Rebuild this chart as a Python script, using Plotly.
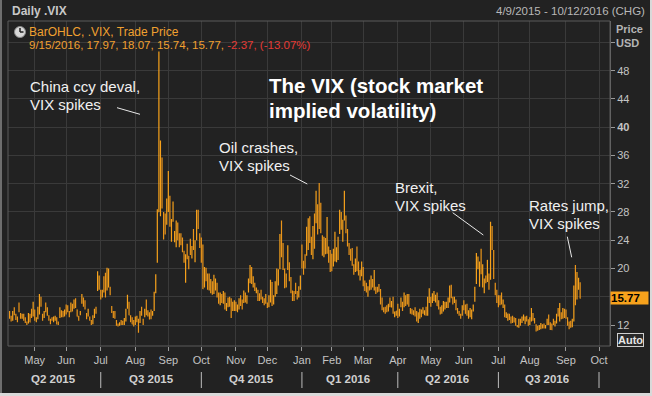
import pandas as pd
import plotly.graph_objects as go

# ---------------- data (daily .VIX bars) ----------------
holidays = ["2015-05-25", "2015-07-03", "2015-09-07", "2015-11-26", "2015-12-25",
            "2016-01-01", "2016-01-18", "2016-02-15", "2016-03-25", "2016-05-30",
            "2016-07-04", "2016-09-05"]
start_date, end_date = "2015-04-09", "2016-09-15"

opens = [
    13.6,13.2,12.8,13.9,13.4,13.0,14.2,13.6,13.0,13.3,12.9,12.3,12.5,13.2,13.5,13.6,  # Apr 15
    14.0,12.6,13.0,14.0,15.4,13.4,13.3,14.2,13.6,13.2,12.6,12.9,12.6,12.7,13.0,12.3,13.1,14.0,13.8,13.3,  # May
    14.5,14.3,13.8,14.0,14.5,14.4,15.4,14.2,13.0,13.6,15.4,15.6,14.8,13.4,13.3,13.0,12.6,12.3,13.3,14.1,17.0,17.9,  # Jun
    16.8,16.0,18.2,17.2,17.2,18.0,17.0,14.5,13.9,13.4,12.6,12.0,12.0,12.3,12.3,12.2,12.7,14.8,15.2,13.3,13.0,12.1,  # Jul
    12.1,12.6,12.6,12.6,13.8,12.8,13.5,14.9,13.3,13.6,13.9,13.6,14.9,16.6,21.5,28.0,29.4,31.3,26.3,26.7,28.1,  # Aug
    29.0,29.1,25.2,27.3,24.1,23.5,25.8,24.6,24.4,24.2,22.3,20.9,22.5,20.3,23.3,21.9,24.5,21.5,24.1,27.1,24.5,  # Sep
    24.0,22.5,17.9,19.5,19.0,18.8,17.0,17.6,16.6,17.4,17.9,16.0,15.8,15.9,15.5,16.5,14.2,15.2,15.6,15.1,14.4,14.6,  # Oct
    15.1,14.5,14.3,15.6,15.3,15.4,16.3,15.4,16.8,18.6,20.0,17.8,17.7,16.7,16.6,15.9,16.9,15.7,15.3,15.2,  # Nov
    15.0,14.7,15.6,17.6,15.1,17.0,17.3,18.8,20.2,24.7,21.5,19.5,17.9,20.3,19.7,18.4,16.3,15.8,17.0,16.5,16.0,17.2,  # Dec
    22.5,20.1,21.7,22.4,22.9,25.0,22.6,21.8,26.6,26.8,26.2,29.2,27.9,23.6,22.4,23.3,22.4,22.8,22.3,  # Jan 16
    21.5,20.7,21.2,21.7,22.3,25.8,26.5,24.8,28.0,26.7,24.2,23.0,21.6,22.3,19.6,19.7,21.4,20.6,18.6,19.6,  # Feb
    19.6,17.9,17.6,16.6,17.7,17.3,18.3,17.2,17.2,17.0,17.4,16.7,15.2,14.3,14.4,14.3,14.1,15.5,14.5,15.6,13.5,13.6,  # Mar
    14.7,13.3,14.6,15.2,14.7,15.4,15.0,16.2,14.3,13.8,13.8,14.3,13.3,13.2,13.2,14.0,13.7,13.9,14.2,13.9,15.3,  # Apr
    15.7,15.2,16.0,15.6,16.2,15.0,14.5,13.8,14.3,14.6,15.1,14.7,15.6,16.6,15.7,15.5,15.5,14.1,13.9,13.4,13.7,  # May
    15.2,14.6,14.0,13.6,13.4,14.0,14.5,15.6,18.2,20.3,19.8,21.0,19.0,16.7,18.6,18.7,19.0,21.8,24.4,21.8,17.8,16.6,  # Jun
    16.0,15.9,16.5,14.6,14.7,13.4,13.1,13.5,12.9,12.8,12.9,12.6,11.9,11.8,12.8,12.6,13.0,12.7,12.9,12.5,  # Jul
    12.1,12.8,13.6,12.9,12.0,11.7,11.7,11.7,12.0,12.0,11.6,12.2,12.6,12.3,11.8,12.4,12.0,12.4,13.7,13.2,13.6,13.1,13.7,  # Aug
    13.6,12.7,12.3,12.4,12.2,12.8,18.9,16.0,17.6,17.97,  # Sep
]
highs = [
    14.0,13.3,14.0,14.5,13.6,13.2,15.2,13.7,13.6,13.6,13.1,12.5,13.7,13.6,14.3,15.3,
    14.2,13.1,14.6,16.4,16.0,13.6,14.0,15.2,14.5,13.4,12.9,13.1,13.2,13.3,13.1,12.5,14.5,14.1,14.0,14.2,
    14.9,14.8,14.0,15.2,15.0,15.6,15.8,14.2,13.3,14.0,16.4,15.9,15.5,13.7,14.3,13.2,12.7,13.4,14.3,14.6,19.6,19.0,
    17.0,17.0,18.9,19.4,20.1,20.0,17.4,14.7,14.0,14.0,12.7,12.2,12.4,12.7,12.6,13.0,14.3,16.3,15.3,13.4,13.1,12.7,
    13.2,13.3,12.9,14.0,14.6,12.9,14.3,15.6,14.1,13.8,14.2,14.0,16.7,19.2,28.4,50.7,38.1,35.7,28.0,27.8,29.9,
    33.8,30.3,27.0,29.5,25.3,26.8,26.5,25.0,25.0,24.4,22.5,22.0,23.5,21.8,24.2,23.2,25.6,24.0,28.3,28.3,25.0,
    24.4,23.4,20.2,20.1,19.3,19.3,18.5,18.2,19.1,18.6,18.0,16.6,16.6,16.4,16.8,16.6,15.1,15.9,16.0,15.8,15.3,15.5,
    15.3,14.9,15.8,16.2,15.6,16.9,16.6,16.2,18.6,20.5,20.2,18.9,18.0,17.3,17.0,16.5,17.0,16.0,15.8,16.4,
    15.2,16.2,18.4,18.1,16.2,18.2,20.0,19.9,24.9,26.8,23.6,20.0,19.3,23.3,20.9,18.8,16.9,16.8,18.0,16.8,17.5,19.0,
    23.4,21.1,22.0,25.9,27.1,27.4,24.5,26.0,27.8,31.0,29.1,32.1,29.3,24.7,24.5,24.3,27.3,23.1,22.6,
    22.1,22.8,25.2,23.0,24.5,28.3,28.0,26.9,31.0,27.5,25.6,23.6,22.8,22.9,20.6,21.4,23.1,21.0,19.8,21.0,
    20.2,18.3,18.0,17.5,18.4,19.0,18.5,19.8,17.4,17.4,17.8,17.1,15.9,14.5,14.6,14.8,15.0,15.9,15.4,16.0,13.9,14.0,
    15.0,14.3,15.9,15.3,16.6,16.2,16.4,16.4,14.4,14.3,14.1,14.5,14.0,13.8,14.3,14.2,14.5,14.1,14.6,16.0,17.2,
    16.0,16.5,16.8,16.3,16.6,15.5,14.6,14.8,15.4,15.3,15.3,15.9,17.6,17.7,16.0,16.0,15.6,14.4,14.0,13.6,14.8,
    15.5,14.9,15.0,14.1,14.4,14.2,14.9,17.4,22.2,21.7,21.0,22.8,20.6,18.6,19.0,21.2,19.3,26.6,26.0,22.6,18.0,17.0,
    16.2,16.2,16.6,15.6,14.9,13.8,13.6,13.6,13.2,13.3,13.1,13.0,12.0,12.9,12.9,13.2,13.5,13.2,13.3,12.8,
    13.1,14.4,13.7,13.0,12.1,11.9,12.0,12.3,12.1,12.2,12.0,12.9,13.5,12.4,12.2,12.9,12.6,13.6,14.4,15.1,13.8,14.4,14.3,
    14.2,13.1,12.5,12.6,12.9,17.6,20.5,19.5,18.7,18.07,
]
lows = [
    12.9,12.5,12.6,13.4,12.7,12.4,13.8,12.9,12.9,12.6,12.3,12.0,12.2,12.4,13.0,13.2,
    12.6,12.4,12.8,13.5,14.6,12.6,13.0,13.8,13.3,12.6,12.1,12.6,12.4,12.6,12.1,12.0,13.0,13.1,13.1,13.2,
    13.5,13.8,13.1,13.8,13.9,14.3,14.4,13.2,12.6,13.4,15.0,14.6,14.2,12.8,13.2,12.6,12.0,12.1,13.0,13.6,16.8,17.0,
    15.6,15.9,16.6,15.9,16.9,17.3,16.2,13.7,13.0,12.9,11.9,11.8,11.9,12.0,12.0,12.0,12.5,14.3,13.4,12.4,12.1,11.8,
    12.0,12.4,10.9,12.3,13.3,12.0,13.1,13.4,13.2,12.8,12.8,13.3,14.0,16.5,20.8,28.0,27.4,28.5,24.1,24.8,26.2,
    28.0,25.9,23.8,26.6,23.7,23.0,24.0,23.0,23.3,22.3,20.8,18.0,21.3,19.9,21.9,21.4,22.6,20.9,24.0,25.6,22.9,
    20.8,17.1,17.3,18.2,17.0,16.9,16.5,16.3,16.4,16.9,15.9,15.0,14.8,15.1,15.0,14.2,14.0,14.5,14.6,13.0,14.0,14.0,
    14.0,13.8,14.2,14.7,14.2,15.1,15.2,15.0,16.6,17.9,17.8,17.3,16.8,16.5,15.4,15.4,15.6,15.1,14.8,15.0,
    14.4,14.5,15.2,14.7,14.9,16.0,16.4,17.6,19.9,21.6,19.8,17.2,17.3,19.8,18.2,16.5,15.4,15.4,16.4,15.6,15.9,17.0,
    20.0,19.1,20.0,21.8,22.6,23.6,21.9,21.3,22.8,26.4,24.8,25.6,25.0,21.8,21.6,22.0,22.1,20.8,19.5,
    19.6,20.3,21.0,20.9,21.2,24.9,25.5,23.8,26.8,25.0,23.1,21.9,21.1,20.4,19.1,19.5,19.6,19.0,18.3,18.9,
    17.5,16.8,16.6,16.0,16.9,17.0,17.3,16.9,16.4,16.6,16.7,14.9,14.1,13.8,13.6,13.8,13.9,14.5,14.5,13.6,13.1,13.3,
    13.0,13.2,14.5,14.0,14.5,14.7,14.9,14.6,13.6,13.5,13.4,13.2,12.5,12.3,12.9,13.1,13.6,13.4,13.3,13.3,15.1,
    14.6,15.1,15.4,15.2,14.7,14.2,13.5,13.6,13.9,14.2,14.4,14.4,15.2,15.8,14.9,15.1,14.1,13.6,13.3,12.9,13.3,
    14.1,13.6,13.3,12.9,13.1,12.8,13.9,15.3,17.8,19.9,17.4,19.2,17.3,16.5,17.9,18.1,17.0,18.4,22.6,18.5,16.2,15.1,
    14.5,14.8,14.9,14.4,13.1,13.0,12.6,12.7,12.2,12.3,12.4,11.9,11.7,11.6,11.9,12.3,12.6,12.1,12.5,11.9,
    12.0,12.5,12.6,12.2,11.1,11.2,11.3,11.4,11.5,11.5,11.5,12.0,12.0,11.3,11.3,12.0,11.8,12.2,13.2,12.5,12.8,12.9,13.0,
    12.9,11.9,11.4,11.6,11.7,12.5,14.8,15.6,17.0,15.74,
]
closes = [
    13.1,12.6,13.9,13.7,12.8,12.6,13.9,13.3,13.3,12.7,12.5,12.3,13.1,12.4,13.4,14.6,
    12.7,12.9,14.3,15.2,15.1,12.9,13.9,13.9,13.8,12.7,12.4,12.7,12.9,12.9,12.1,12.1,14.1,13.3,13.3,13.8,
    14.0,14.2,13.7,14.7,14.2,15.3,14.5,13.2,12.9,13.8,15.4,14.8,14.5,13.2,14.0,12.7,12.1,13.3,14.0,14.0,18.9,18.2,
    16.1,16.8,17.0,16.1,19.7,19.0,16.8,13.9,13.4,13.2,12.0,12.0,12.3,12.2,12.1,12.6,13.7,15.6,13.4,12.5,12.1,12.1,
    12.6,13.0,12.5,13.8,13.4,12.2,13.7,13.6,13.5,12.8,13.0,13.8,15.3,19.1,28.0,40.7,36.0,30.3,26.1,26.1,28.4,
    31.4,26.1,25.6,27.8,24.9,26.2,24.4,23.2,24.3,22.5,21.4,21.1,22.3,20.1,22.4,22.1,23.5,23.6,27.6,26.8,24.5,
    22.6,17.1,19.5,19.4,18.4,17.4,17.1,16.4,17.7,18.0,16.1,15.1,15.8,15.8,16.7,14.5,14.5,15.3,15.4,14.3,14.6,15.1,
    14.2,14.5,15.5,15.1,14.3,16.5,15.3,16.1,18.4,20.1,18.2,17.9,16.9,17.0,15.5,15.6,15.9,15.2,15.1,16.1,
    14.7,15.9,18.1,14.8,15.8,17.6,19.6,19.3,24.4,22.7,21.0,17.9,18.9,20.7,19.3,16.6,15.6,15.7,16.9,16.1,17.3,18.2,
    20.7,19.3,20.6,25.0,27.0,24.3,22.5,25.2,24.0,27.0,26.1,27.6,26.7,22.3,24.2,22.5,23.1,22.4,20.2,
    20.0,22.0,21.7,21.8,23.4,26.0,26.5,26.3,28.1,25.4,24.1,22.3,21.6,20.5,19.4,21.0,19.7,19.1,19.8,20.6,
    17.7,17.1,16.7,16.9,17.4,18.7,17.5,18.1,16.5,16.9,16.8,15.0,14.4,14.0,13.8,14.2,14.9,14.7,15.2,13.8,13.6,14.0,
    13.1,14.1,15.4,14.1,16.2,15.4,16.3,14.9,13.8,13.7,13.6,13.4,13.2,13.3,14.0,13.2,14.1,14.0,13.8,15.2,15.7,
    14.7,15.6,16.1,15.9,14.7,14.6,13.6,14.7,14.4,15.0,14.7,15.6,16.0,16.3,15.2,15.8,14.4,13.9,13.4,13.1,14.2,
    14.2,13.6,13.5,13.7,14.1,14.1,14.6,17.0,21.0,20.5,20.1,19.4,19.4,18.4,18.5,21.2,17.3,25.8,23.9,18.8,16.6,15.6,
    14.8,15.6,15.0,14.8,13.2,13.5,13.6,13.0,12.8,12.7,12.4,12.0,11.8,12.7,12.0,12.9,13.1,12.8,12.7,11.9,
    12.4,13.4,12.9,12.4,11.4,11.5,11.7,12.1,11.7,11.6,11.8,12.6,12.2,11.4,11.3,12.3,12.4,13.5,13.6,13.7,12.9,13.1,13.4,
    13.5,12.0,12.0,11.9,12.5,17.5,15.2,17.9,18.1,15.77,
]

month_ticks = ["2015-05-01", "2015-06-01", "2015-07-01", "2015-08-03", "2015-09-01", "2015-10-01",
               "2015-11-02", "2015-12-01", "2016-01-04", "2016-02-01", "2016-03-01", "2016-04-01",
               "2016-05-02", "2016-06-01", "2016-07-01", "2016-08-01", "2016-09-01", "2016-10-03"]
month_labels = ["May", "Jun", "Jul", "Aug", "Sep", "Oct", "Nov", "Dec", "Jan", "Feb", "Mar", "Apr",
                "May", "Jun", "Jul", "Aug", "Sep", "Oct"]
quarter_labels = ["Q2 2015", "Q3 2015", "Q4 2015", "Q1 2016", "Q2 2016", "Q3 2016"]
quarter_centers = ["2015-05-19", "2015-08-17", "2015-11-16", "2016-02-16", "2016-05-16", "2016-08-16"]
quarter_bounds = ["2015-07-01", "2015-10-01", "2016-01-04", "2016-04-01", "2016-07-01", "2016-10-03"]
y_ticks = [12, 16, 20, 24, 28, 32, 36, 40, 44, 48, 52]
# the 16 label sits under the last-price box in the original, 52 has no label
y_labels = ["12", "", "20", "24", "28", "32", "36", "<b>40</b>", "44", "48", ""]
last_close = 15.77

dates = [d for d in pd.bdate_range(start_date, end_date) if d.strftime("%Y-%m-%d") not in holidays]
n = min(len(dates), len(closes))

# ---------------- styling ----------------
W, H = 652, 396
ML, MR, MT, MB = 8, 42, 21, 50
PW, PH = W - ML - MR, H - MT - MB
BG = "#222222"
GRID = "#3a3a3a"
ORANGE = "#f7a21c"
TXT = "#c4c4c4"
FONT = "Liberation Sans"


def X(px):
    return (px - ML) / PW


def Y(py):
    return (H - MB - py) / PH


fig = go.Figure()
fig.add_trace(go.Ohlc(
    x=dates[:n], open=opens[:n], high=highs[:n], low=lows[:n], close=closes[:n],
    increasing=dict(line=dict(color=ORANGE, width=1.2)),
    decreasing=dict(line=dict(color="#eb951a", width=1.2)),
    tickwidth=0.25, hoverinfo="skip", showlegend=False,
))

shapes = []
# plot border
shapes.append(dict(type="rect", xref="paper", yref="paper", x0=0, x1=1, y0=0, y1=1,
                   line=dict(color="#5a5a5a", width=1), layer="above"))
# window edges
shapes.append(dict(type="rect", xref="paper", yref="paper", x0=X(0), x1=X(652), y0=Y(396), y1=Y(393),
                   fillcolor="#d9d9d9", line=dict(width=0)))
shapes.append(dict(type="rect", xref="paper", yref="paper", x0=X(650), x1=X(652), y0=Y(396), y1=Y(0),
                   fillcolor="#d9d9d9", line=dict(width=0)))
shapes.append(dict(type="rect", xref="paper", yref="paper", x0=X(0), x1=X(2), y0=Y(393), y1=Y(0),
                   fillcolor="#6e6e6e", line=dict(width=0)))
# quarter separators
for qb in quarter_bounds:
    shapes.append(dict(type="line", xref="x", yref="paper", x0=qb, x1=qb, y0=Y(372), y1=Y(388),
                       line=dict(color="#bdbdbd", width=1)))
# connector lines
for (x0, y0, x1, y1) in [(117, 107.7, 140, 114.3), (290, 175, 307.3, 184),
                         (452.7, 212.7, 483.3, 235), (567.3, 236.7, 571.7, 257.3)]:
    shapes.append(dict(type="line", xref="paper", yref="paper", x0=X(x0), y0=Y(y0), x1=X(x1), y1=Y(y1),
                       line=dict(color="#e8e8e8", width=1)))
# clock icon
shapes.append(dict(type="circle", xref="paper", yref="paper", x0=X(14.5), x1=X(25.5), y0=Y(37.5), y1=Y(26.5),
                   fillcolor="#d8d8d8", line=dict(color="#8a8a8a", width=1)))
shapes.append(dict(type="line", xref="paper", yref="paper", x0=X(20), y0=Y(32), x1=X(20), y1=Y(28),
                   line=dict(color="#222222", width=1.5)))
shapes.append(dict(type="line", xref="paper", yref="paper", x0=X(20), y0=Y(32), x1=X(23.5), y1=Y(32),
                   line=dict(color="#222222", width=1.5)))

ann = []


def txt(px, py, text, size=11, color=TXT, xanchor="left", yanchor="middle", **kw):
    ann.append(dict(xref="paper", yref="paper", x=X(px), y=Y(py), text=text, showarrow=False,
                    xanchor=xanchor, yanchor=yanchor,
                    font=dict(family=FONT, size=size, color=color), **kw))


txt(10, 11, "<b>Daily .VIX</b>", size=12, color="#c8c8c8")
txt(647, 11, "4/9/2015 - 10/12/2016 (CHG)", size=11.5, color="#b8b8b8", xanchor="right")
txt(27, 32, "BarOHLC, .VIX, Trade Price", size=12, color="#f0a030")
txt(27, 45, "9/15/2016, 17.97, 18.07, 15.74, 15.77, <span style='color:#e53a35'>-2.37, (-13.07%)</span>",
    size=11.5, color="#f0a030")
txt(614, 29, "<b>Price</b>", size=11, color="#b4b4b4")
txt(614, 43, "<b>USD</b>", size=11, color="#b4b4b4")

WHITE = "#f0f0f0"
txt(28, 87, "China ccy deval,", size=15, color=WHITE)
txt(28, 104.5, "VIX spikes", size=15, color=WHITE)
txt(216.5, 147.5, "Oil crashes,", size=15, color=WHITE)
txt(216.5, 165, "VIX spikes", size=15, color=WHITE)
txt(393.5, 187.5, "Brexit,", size=15, color=WHITE)
txt(393.5, 205, "VIX spikes", size=15, color=WHITE)
txt(527, 205, "Rates jump,", size=15, color=WHITE)
txt(527, 223, "VIX spikes", size=15, color=WHITE)
txt(267, 85, "<b>The VIX (stock market</b>", size=20.5, color="#ffffff")
txt(267, 110.5, "<b>implied volatility)</b>", size=20.5, color="#ffffff")

# quarter labels
for ql, qc in zip(quarter_labels, quarter_centers):
    ann.append(dict(xref="x", yref="paper", x=qc, y=Y(379), text="<b>" + ql + "</b>", showarrow=False,
                    xanchor="center", yanchor="middle", font=dict(family=FONT, size=11.5, color="#d0d0d0")))

# last price box
ann.append(dict(xref="paper", yref="y", x=1, y=last_close, text="<b>%.2f</b>" % last_close, showarrow=False,
                xanchor="left", yanchor="middle", bgcolor=ORANGE, width=37, align="left",
                font=dict(family=FONT, size=11.5, color="#000000"), borderpad=0))
# Auto box
ann.append(dict(xref="paper", yref="paper", x=X(630), y=Y(340), text="<b>Auto</b>", showarrow=False,
                xanchor="center", yanchor="middle", bgcolor="#2a2a2a", bordercolor="#cfcfcf", borderwidth=1,
                borderpad=0, font=dict(family=FONT, size=11, color="#e6e6e6")))

fig.update_layout(
    width=W, height=H,
    margin=dict(l=ML, r=MR, t=MT, b=MB, pad=0),
    paper_bgcolor=BG, plot_bgcolor=BG,
    showlegend=False,
    shapes=shapes, annotations=ann,
    font=dict(family=FONT, color=TXT),
    xaxis=dict(
        type="date", range=["2015-04-08", "2016-10-12"],
        rangebreaks=[dict(bounds=["sat", "mon"]), dict(values=holidays)],
        rangeslider=dict(visible=False),
        tickmode="array", tickvals=month_ticks, ticktext=month_labels,
        ticks="outside", ticklen=4, tickcolor="#9a9a9a",
        showgrid=True, gridcolor=GRID, gridwidth=1,
        showline=False, zeroline=False,
        tickfont=dict(family=FONT, size=11, color=TXT),
        fixedrange=True,
    ),
    yaxis=dict(
        side="right", range=[9.03, 55.03],
        tickmode="array", tickvals=y_ticks, ticktext=y_labels,
        ticks="outside", ticklen=4, tickcolor="#9a9a9a",
        showgrid=True, gridcolor=GRID, gridwidth=1,
        showline=True, linecolor="#6a6a6a", zeroline=False,
        tickfont=dict(family=FONT, size=11, color=TXT),
        fixedrange=True,
    ),
)

fig.write_html("out.html", config={"displayModeBar": False},
               post_script="document.body.style.margin='0';document.body.style.overflow='hidden';"
                           "document.body.style.background='#222222';")
